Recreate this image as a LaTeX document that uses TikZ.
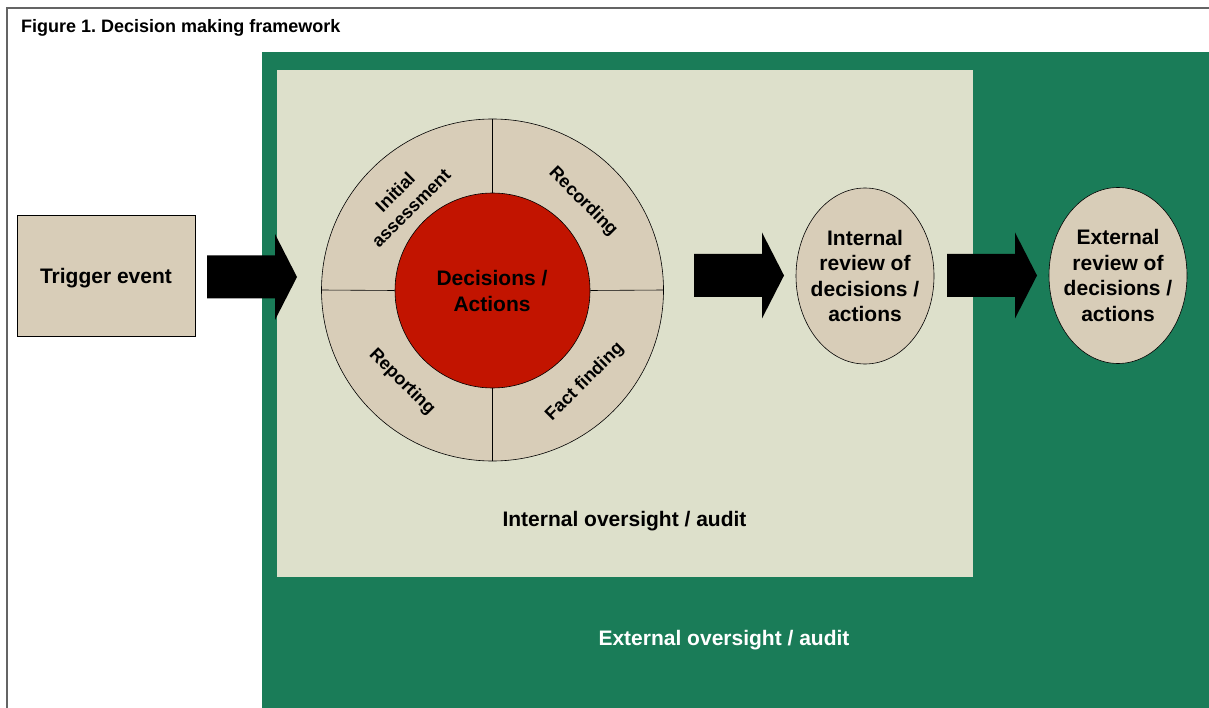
\documentclass[tikz,border=0pt]{standalone}
\usepackage{fontspec}
\setmainfont{Liberation Sans}
\usetikzlibrary{shapes.geometric}
\frenchspacing

\definecolor{extgreen}{RGB}{26,124,88}
\definecolor{intpale}{RGB}{221,224,203}
\definecolor{boxtan}{RGB}{216,205,184}
\definecolor{corered}{RGB}{194,20,0}
\definecolor{framegray}{RGB}{100,100,100}

\tikzset{
  lbl/.style={font=\fontsize{21}{25.5}\selectfont\bfseries, align=center, inner sep=0pt},
  seglbl/.style={font=\fontsize{18}{22.5}\selectfont\bfseries, align=center, inner sep=0pt},
  tanbox/.style={draw=black, line width=0.6pt, fill=boxtan},
  reviewellipse/.style={lbl, tanbox, ellipse, minimum width=138pt, minimum height=176pt, inner xsep=-6pt, inner ysep=0pt},
  blockarrow/.pic={
    \fill[black] (0,-21.5) -- (68,-21.5) -- (68,-43) -- (90,0) -- (68,43) -- (68,21.5) -- (0,21.5) -- cycle;
  }
}

\begin{document}
\begin{tikzpicture}[x=1pt, y=-1pt]
  \useasboundingbox (0,0) rectangle (1209,708);
  \fill[white] (0,0) rectangle (1209,708);

  % outer frame (open on the right and bottom)
  \draw[framegray, line width=1.6pt] (7,708) -- (7,8) -- (1209,8);

  % title
  \node[anchor=west, inner sep=0pt, font=\fontsize{18}{20}\selectfont\bfseries] (title) at (21,28) {Figure 1. Decision making framework};

  % external and internal oversight areas
  \fill[extgreen] (262,52) rectangle (1209,708);
  \fill[intpale] (277,70) rectangle (973,577);
  \node[lbl] (intlabel) at (624.5,521) {Internal oversight / audit};
  \node[lbl, text=white] (extlabel) at (724,640) {External oversight / audit};

  % trigger event
  \node[lbl, tanbox, rectangle, minimum width=178pt, minimum height=121pt, text depth=0pt] (trigger) at (106,275.5) {Trigger event};

  % decision wheel
  \node[tanbox, circle, minimum size=342pt, inner sep=0pt] (wheel) at (492.5,290) {};
  \node[draw=black, line width=0.6pt, fill=corered, circle, minimum size=195pt, inner sep=0pt] (core) at (492.5,290.5) {};
  \draw[line width=0.6pt] (wheel.north) -- (core.north);
  \draw[line width=0.6pt] (wheel.south) -- (core.south);
  \draw[line width=0.6pt] (wheel.west) -- (core.west);
  \draw[line width=0.6pt] (wheel.east) -- (core.east);
  \node[lbl] (corelabel) at (492,291) {Decisions /\\Actions};

  \node[seglbl, rotate=45] (initial) at (403,200) {Initial\\assessment};
  \node[seglbl, rotate=-45] (recording) at (583,202) {Recording};
  \node[seglbl, rotate=45] (fact) at (585,382) {Fact finding};
  \node[seglbl, rotate=-45] (reporting) at (402,382) {Reporting};

  % review stages
  \node[reviewellipse] (intreview) at (865,276) {Internal\\review of\\decisions /\\actions};
  \node[reviewellipse] (extreview) at (1118,275.5) {External\\review of\\decisions /\\actions};

  % block arrows between stages
  \pic at (207,277) {blockarrow};
  \pic at (694,275.5) {blockarrow};
  \pic at (947,275.5) {blockarrow};
\end{tikzpicture}
\end{document}
